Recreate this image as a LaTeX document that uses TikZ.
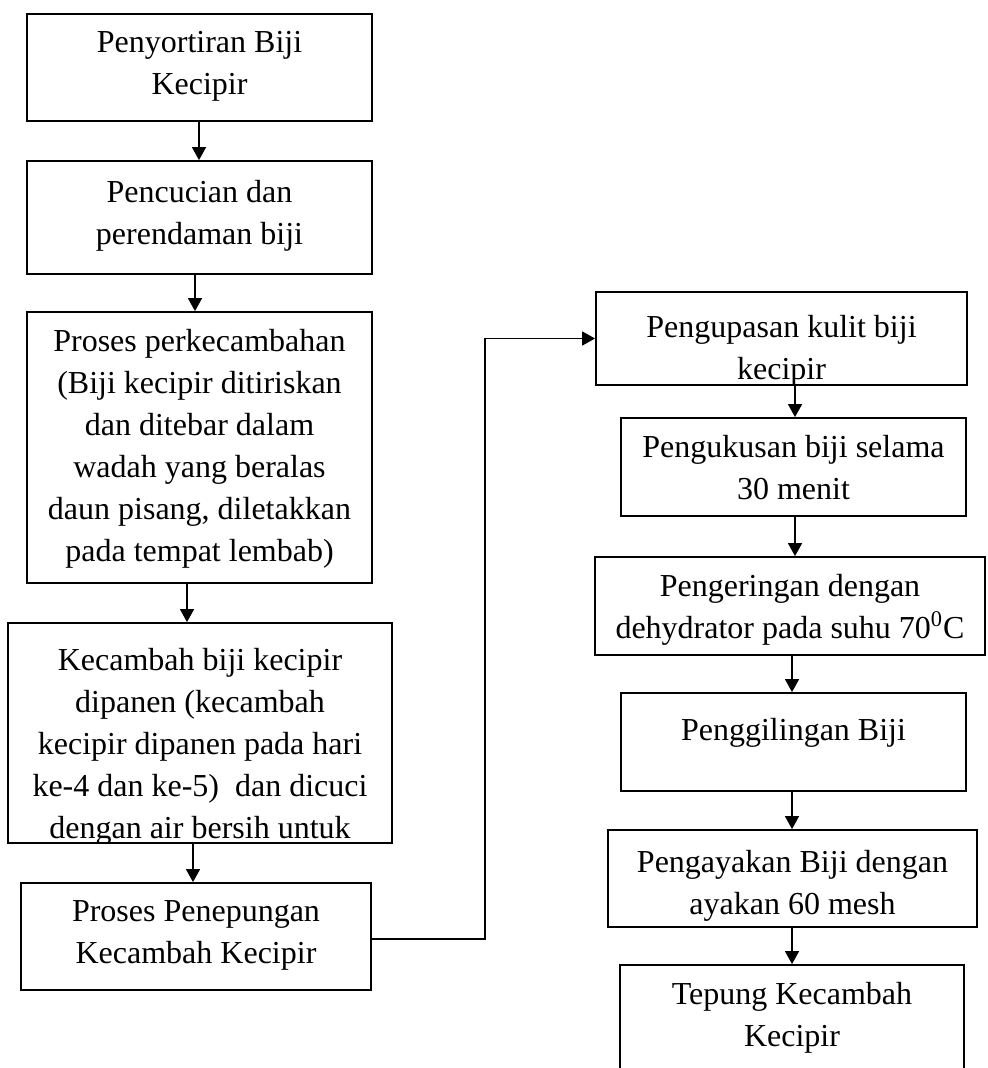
\documentclass[tikz,border=0pt]{standalone}
\usepackage{fontspec}
\setmainfont{Liberation Serif}
\usetikzlibrary{arrows.meta}
\begin{document}
\begin{tikzpicture}[x=0.5pt,y=-0.5pt,
  boxst/.style={draw, line width=0.9pt, inner sep=0pt, fill=none},
  txt/.style={anchor=north, align=center, inner sep=0pt, font=\fontsize{16pt}{21pt}\selectfont},
  arr/.style={line width=0.8pt, -{Triangle[length=6.5pt,width=7pt]}}]
\useasboundingbox (0,0) rectangle (987,1068);
\clip (0,0) rectangle (987,1068);
\fill[white] (0,0) rectangle (987,1068);

% left column
\node[boxst, minimum width=172.5pt, minimum height=53.5pt] (L1) at (199.5,67.5) {};
\node[txt] (T1) at ([yshift=-9pt]L1.north) {Penyortiran Biji\\Kecipir};

\node[boxst, minimum width=172.5pt, minimum height=56.5pt] (L2) at (199.5,217.5) {};
\node[txt] (T2) at ([yshift=-10pt]L2.north) {Pencucian dan\\perendaman biji};

\node[boxst, minimum width=172.5pt, minimum height=135.5pt] (L3) at (199.5,447.5) {};
\node[txt] (T3) at ([yshift=-9pt]L3.north) {Proses perkecambahan\\(Biji kecipir ditiriskan\\dan ditebar dalam\\wadah yang beralas\\daun pisang, diletakkan\\pada tempat lembab)};

\node[boxst, minimum width=192pt, minimum height=110pt] (L4) at (200,733) {};
\begin{scope}
  \clip (L4.south west) rectangle (L4.north east);
  \node[txt, anchor=south] (T4) at ([yshift=-1pt]L4.south) {Kecambah biji kecipir\\dipanen (kecambah\\kecipir dipanen pada hari\\ke-4 dan ke-5)~ dan dicuci\\dengan air bersih untuk};
\end{scope}

\node[boxst, minimum width=175pt, minimum height=53.5pt] (L5) at (196,936.5) {};
\node[txt] (T5) at ([yshift=-9pt]L5.north) {Proses Penepungan\\Kecambah Kecipir};

% right column
\node[boxst, minimum width=185.5pt, minimum height=46.5pt] (R1) at (781.5,338.5) {};
\begin{scope}
  \clip (R1.south west) rectangle (R1.north east);
  \node[txt, anchor=south] (U1) at ([yshift=-0.5pt]R1.south) {Pengupasan kulit biji\\kecipir};
\end{scope}

\node[boxst, minimum width=172.5pt, minimum height=49pt] (R2) at (793.5,467) {};
\node[txt] (U2) at ([yshift=-9pt]R2.north) {Pengukusan biji selama\\30 menit};

\node[boxst, minimum width=195pt, minimum height=49pt] (R3) at (790,606) {};
\node[txt] (U3) at ([yshift=-9pt]R3.north) {Pengeringan dengan\\dehydrator pada suhu 70\textsuperscript{0}C};

\node[boxst, minimum width=172.5pt, minimum height=49pt] (R4) at (793.5,742) {};
\node[txt] (U4) at ([yshift=-13pt]R4.north) {Penggilingan Biji};

\node[boxst, minimum width=184.5pt, minimum height=48.5pt] (R5) at (792.5,878.5) {};
\node[txt] (U5) at ([yshift=-10.5pt]R5.north) {Pengayakan Biji dengan\\ayakan 60 mesh};

\node[boxst, minimum width=172pt, minimum height=55pt] (R6) at (792,1020) {};
\node[txt] (U6) at ([yshift=-9pt]R6.north) {Tepung Kecambah\\Kecipir};

% arrow x positions
\coordinate (xa) at (199,0);
\coordinate (xb) at (195,0);
\coordinate (xc) at (187,0);
\coordinate (xd) at (193,0);
\coordinate (xr) at (795,0);
\coordinate (xs) at (792,0);

\draw[arr] (L1.south -| xa) -- (L2.north -| xa);
\draw[arr] (L2.south -| xb) -- (L3.north -| xb);
\draw[arr] (L3.south -| xc) -- (L4.north -| xc);
\draw[arr] (L4.south -| xd) -- (L5.north -| xd);

\draw[arr] (R1.south -| xr) -- (R2.north -| xr);
\draw[arr] (R2.south -| xr) -- (R3.north -| xr);
\draw[arr] (R3.south -| xs) -- (R4.north -| xs);
\draw[arr] (R4.south -| xs) -- (R5.north -| xs);
\draw[arr] (R5.south -| xs) -- (R6.north -| xs);

\coordinate (J) at (485,939);
\draw[arr] (L5.east |- J) -- (J) |- (R1.west);
\end{tikzpicture}
\end{document}
